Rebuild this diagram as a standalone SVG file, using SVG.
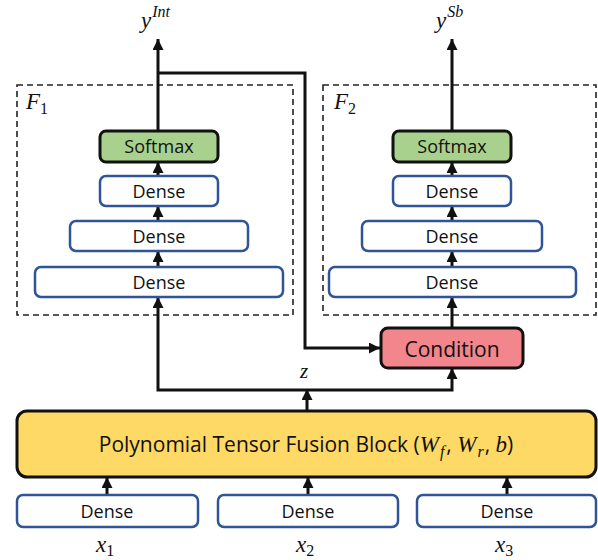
<svg xmlns="http://www.w3.org/2000/svg" width="598" height="560" viewBox="0 0 598 560">
  <style>
    .dense { fill: #ffffff; stroke: #2f5597; stroke-width: 2.5; }
    .soft { fill: #a9d18e; stroke: #111; stroke-width: 3; }
    .cond { fill: #f2868c; stroke: #111; stroke-width: 3; }
    .poly { fill: #ffd966; stroke: #111; stroke-width: 3; }
    .frame { fill: none; stroke: #222; stroke-width: 1.6; stroke-dasharray: 6 4; }
    .lbl { font-family: "Open Sans", "Noto Sans", sans-serif; fill: #111; text-anchor: middle; }
    .math { font-family: "Liberation Serif", "DejaVu Serif", serif; font-style: italic; fill: #111; }
    .arrow { fill: none; stroke: #111; stroke-width: 3; marker-end: url(#head); }
  </style>
  <defs>
    <marker id="head" markerUnits="userSpaceOnUse" viewBox="0 0 10 10" refX="10" refY="5" markerWidth="11" markerHeight="11" orient="auto">
      <path d="M0,0 L10,5 L0,10 z" fill="#111"/>
    </marker>
  </defs>

  <!-- sub-network frames -->
  <g id="frame-f1">
    <rect class="frame" x="17" y="85" width="276" height="230"/>
    <text class="math" x="26" y="109" font-size="23">F<tspan font-size="16" font-style="normal" dy="5">1</tspan></text>
  </g>
  <g id="frame-f2">
    <rect class="frame" x="323" y="85" width="273" height="230"/>
    <text class="math" x="334" y="109" font-size="23">F<tspan font-size="16" font-style="normal" dy="5">2</tspan></text>
  </g>

  <!-- connectors -->
  <g id="connectors">
    <!-- left branch -->
    <line class="arrow" x1="158" y1="131" x2="158" y2="39"/>
    <line class="arrow" x1="158" y1="176" x2="158" y2="162"/>
    <line class="arrow" x1="158" y1="221" x2="158" y2="206"/>
    <line class="arrow" x1="158" y1="267" x2="158" y2="251"/>
    <!-- right branch -->
    <line class="arrow" x1="452" y1="131" x2="452" y2="39"/>
    <line class="arrow" x1="452" y1="176" x2="452" y2="162"/>
    <line class="arrow" x1="452" y1="221" x2="452" y2="206"/>
    <line class="arrow" x1="452" y1="267" x2="452" y2="251"/>
    <line class="arrow" x1="452" y1="328" x2="452" y2="297"/>
    <!-- y^Int fed into the condition block -->
    <polyline class="arrow" points="158,73 305,73 305,348 380,348"/>
    <!-- shared representation z -->
    <polyline class="arrow" points="307,390 158,390 158,297"/>
    <polyline class="arrow" points="307,390 452,390 452,368"/>
    <line class="arrow" x1="307" y1="411" x2="307" y2="389"/>
    <!-- inputs into fusion block -->
    <line class="arrow" x1="107" y1="495" x2="107" y2="477"/>
    <line class="arrow" x1="308" y1="495" x2="308" y2="477"/>
    <line class="arrow" x1="507" y1="495" x2="507" y2="477"/>
  </g>

  <!-- F1 stack -->
  <g id="f1-softmax">
    <rect class="soft" x="100" y="131" width="118" height="31" rx="6"/>
    <text class="lbl" x="159" y="153" font-size="18">Softmax</text>
  </g>
  <g id="f1-dense3">
    <rect class="dense" x="100" y="176" width="118" height="30" rx="6"/>
    <text class="lbl" x="159" y="197.5" font-size="18">Dense</text>
  </g>
  <g id="f1-dense2">
    <rect class="dense" x="70" y="221" width="178" height="30" rx="6"/>
    <text class="lbl" x="159" y="242.5" font-size="18">Dense</text>
  </g>
  <g id="f1-dense1">
    <rect class="dense" x="35" y="267" width="248" height="30" rx="6"/>
    <text class="lbl" x="159" y="288.5" font-size="18">Dense</text>
  </g>

  <!-- F2 stack -->
  <g id="f2-softmax">
    <rect class="soft" x="393" y="131" width="118" height="31" rx="6"/>
    <text class="lbl" x="452" y="153" font-size="18">Softmax</text>
  </g>
  <g id="f2-dense3">
    <rect class="dense" x="393" y="176" width="118" height="30" rx="6"/>
    <text class="lbl" x="452" y="197.5" font-size="18">Dense</text>
  </g>
  <g id="f2-dense2">
    <rect class="dense" x="362" y="221" width="180" height="30" rx="6"/>
    <text class="lbl" x="452" y="242.5" font-size="18">Dense</text>
  </g>
  <g id="f2-dense1">
    <rect class="dense" x="329" y="267" width="247" height="30" rx="6"/>
    <text class="lbl" x="452" y="288.5" font-size="18">Dense</text>
  </g>

  <!-- condition -->
  <g id="condition">
    <rect class="cond" x="381" y="328" width="142" height="40" rx="7"/>
    <text class="lbl" x="452" y="356.5" font-size="21">Condition</text>
  </g>

  <!-- fusion block -->
  <g id="fusion">
    <rect class="poly" x="17" y="411" width="579" height="66" rx="10"/>
    <text class="lbl" x="306" y="452" font-size="21">Polynomial Tensor Fusion Block (<tspan class="math" font-size="23">W</tspan><tspan class="math" font-size="16" dx="1" dy="5">f</tspan><tspan dx="2" dy="-5">, </tspan><tspan class="math" font-size="23">W</tspan><tspan class="math" font-size="16" dx="1" dy="5">r</tspan><tspan dx="1" dy="-5">, </tspan><tspan class="math" font-size="23">b</tspan>)</text>
  </g>

  <!-- input encoders -->
  <g id="enc1">
    <rect class="dense" x="17" y="495" width="181" height="32" rx="6"/>
    <text class="lbl" x="107" y="517.5" font-size="18">Dense</text>
  </g>
  <g id="enc2">
    <rect class="dense" x="218" y="495" width="180" height="32" rx="6"/>
    <text class="lbl" x="308" y="517.5" font-size="18">Dense</text>
  </g>
  <g id="enc3">
    <rect class="dense" x="417" y="495" width="179" height="32" rx="6"/>
    <text class="lbl" x="507" y="517.5" font-size="18">Dense</text>
  </g>

  <!-- variable labels -->
  <g id="labels">
    <text class="math" x="141" y="28" font-size="23">y<tspan font-size="16" dx="1" dy="-11">Int</tspan></text>
    <text class="math" x="436" y="28" font-size="23">y<tspan font-size="16" dx="1" dy="-11">Sb</tspan></text>
    <text class="math" x="300" y="378" font-size="21">z</text>
    <text class="math" x="96" y="552" font-size="23">x<tspan font-size="16" font-style="normal" dy="4">1</tspan></text>
    <text class="math" x="296" y="552" font-size="23">x<tspan font-size="16" font-style="normal" dy="4">2</tspan></text>
    <text class="math" x="495" y="552" font-size="23">x<tspan font-size="16" font-style="normal" dy="4">3</tspan></text>
  </g>
</svg>
